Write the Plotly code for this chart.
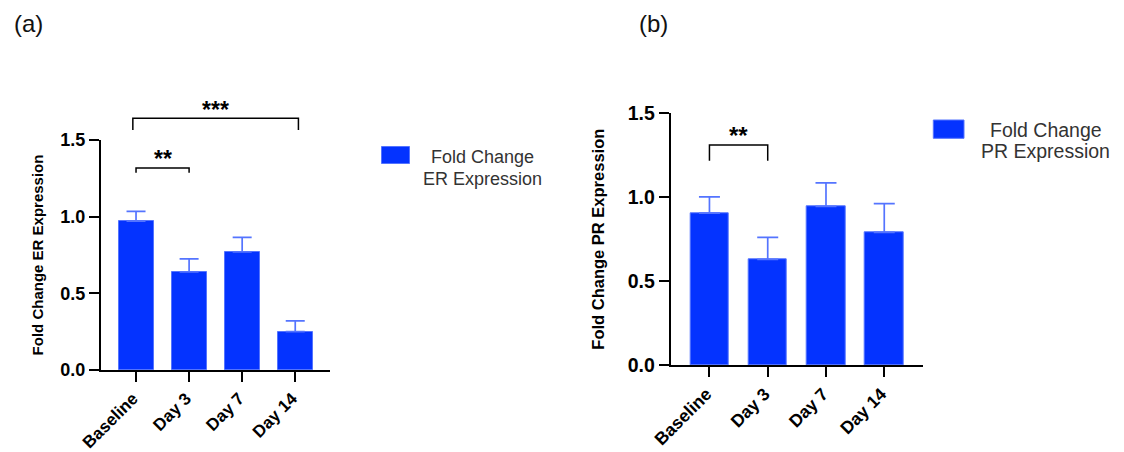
import plotly.graph_objects as go

# ---- data -------------------------------------------------------------
categories = ["Baseline", "Day 3", "Day 7", "Day 14"]

er_mean = [0.97, 0.64, 0.77, 0.25]
er_sem = [0.065, 0.085, 0.095, 0.07]

pr_mean = [0.905, 0.63, 0.945, 0.79]
pr_sem = [0.097, 0.13, 0.14, 0.172]

y_ticks = [0.0, 0.5, 1.0, 1.5]
y_tick_labels = ["0.0", "0.5", "1.0", "1.5"]

# significance brackets: (left category, right category, bracket level, leg drop, label, label level)
er_brackets = [
    (0, 1, 1.318, 0.031, "**", 1.279),
    (-0.06, 3.06, 1.642, 0.076, "***", 1.595),
]
pr_brackets = [
    (0, 1, 1.311, 0.094, "**", 1.277),
]

# ---- styling ------------------------------------------------------------
W, H = 1124, 452
BAR_FILL = "#0433FF"
BAR_EDGE = "#5474FF"
FONT = "Liberation Sans, Arial, Helvetica, sans-serif"


def fx(p):
    return p / W


def fy(p):
    return 1 - p / H


panels = [
    dict(xdom=(101, 330), ydom=(140, 370), xr=(-0.66, 3.655), mean=er_mean, sem=er_sem,
         title="Fold Change ER Expression", brackets=er_brackets, ytick=18, xtick=17,
         title_size=15, standoff=13, cap=9.5, legend=("Fold Change", "ER Expression"),
         sw=(381.5, 409.5, 146.5, 163.5), leg_x=482.5, leg_y=(156.5, 178.5), leg_size=18,
         ast=23),
    dict(xdom=(670.7, 923.3), ydom=(113.3, 365), xr=(-0.665, 3.67), mean=pr_mean, sem=pr_sem,
         title="Fold Change PR Expression", brackets=pr_brackets, ytick=19.5, xtick=17.5,
         title_size=16.5, standoff=19, cap=10.5, legend=("Fold Change", "PR Expression"),
         sw=(933.3, 964, 120, 138.3), leg_x=1045.5, leg_y=(130, 151), leg_size=19.5,
         ast=24),
]

fig = go.Figure()
shapes = []
annotations = []

for i, p in enumerate(panels):
    sfx = "" if i == 0 else str(i + 1)
    xa, ya = "x" + sfx, "y" + sfx
    fig.add_trace(go.Bar(
        x=categories, y=p["mean"], xaxis=xa, yaxis=ya, width=0.66,
        marker=dict(color=BAR_FILL, line=dict(color=BAR_EDGE, width=1)),
        error_y=dict(type="data", array=p["sem"], arrayminus=[0] * len(p["sem"]),
                     symmetric=False, color=BAR_EDGE, thickness=1.7, width=p["cap"]),
        showlegend=False,
    ))

    axis_common = dict(showline=True, linecolor="black", linewidth=2, ticks="outside",
                       ticklen=10, tickwidth=2, tickcolor="black", showgrid=False,
                       zeroline=False, color="black", automargin=False)
    fig.update_layout({
        ("xaxis" + sfx): dict(
            domain=[fx(p["xdom"][0]), fx(p["xdom"][1])], anchor=ya,
            range=list(p["xr"]), tickangle=-45, ticklabelshift=-3,
            tickfont=dict(family=FONT, size=p["xtick"], weight="bold", color="black"),
            **axis_common),
        ("yaxis" + sfx): dict(
            domain=[fy(p["ydom"][1]), fy(p["ydom"][0])], anchor=xa,
            range=[0, 1.5], tickvals=y_ticks, ticktext=y_tick_labels,
            tickfont=dict(family=FONT, size=p["ytick"], weight="bold", color="black"),
            title=dict(text=p["title"], standoff=p["standoff"],
                       font=dict(family=FONT, size=p["title_size"], weight="bold", color="black")),
            **axis_common),
    })

    # brackets are placed in domain units derived from the data axes
    x0r, x1r = p["xr"]

    def dx(c):
        return (c - x0r) / (x1r - x0r)

    def dy(v):
        return v / 1.5

    for (c0, c1, lvl, drop, label, lab_y) in p["brackets"]:
        shapes.append(dict(
            type="path", xref=xa + " domain", yref=ya + " domain",
            path=f"M {dx(c0)},{dy(lvl - drop)} L {dx(c0)},{dy(lvl)} L {dx(c1)},{dy(lvl)} L {dx(c1)},{dy(lvl - drop)}",
            line=dict(color="black", width=1.5)))
        annotations.append(dict(
            xref=xa + " domain", yref=ya + " domain", x=dx((c0 + c1) / 2), y=dy(lab_y),
            text=label, showarrow=False, xanchor="center", yanchor="bottom",
            font=dict(family=FONT, size=p["ast"], weight="bold", color="black")))

    # legend swatch and centred two-line label
    x0s, x1s, y0s, y1s = p["sw"]
    shapes.append(dict(type="rect", xref="paper", yref="paper",
                       x0=fx(x0s), x1=fx(x1s), y0=fy(y1s), y1=fy(y0s),
                       fillcolor=BAR_FILL, line=dict(color=BAR_EDGE, width=1)))
    for line_text, ly in zip(p["legend"], p["leg_y"]):
        annotations.append(dict(
            xref="paper", yref="paper", x=fx(p["leg_x"]), y=fy(ly),
            text=line_text, showarrow=False, xanchor="center", yanchor="middle",
            font=dict(family=FONT, size=p["leg_size"], color="#333333")))

# panel letters
for letter, cx in (("(a)", 28), ("(b)", 653)):
    annotations.append(dict(
        xref="paper", yref="paper", x=fx(cx), y=fy(24), text=letter, showarrow=False,
        xanchor="center", yanchor="middle",
        font=dict(family=FONT, size=24, color="#111111")))

fig.update_layout(
    width=W, height=H, margin=dict(l=0, r=0, t=0, b=0),
    paper_bgcolor="white", plot_bgcolor="white",
    shapes=shapes, annotations=annotations, bargap=0,
    font=dict(family=FONT, color="black"),
)

fig.write_html("out.html")
